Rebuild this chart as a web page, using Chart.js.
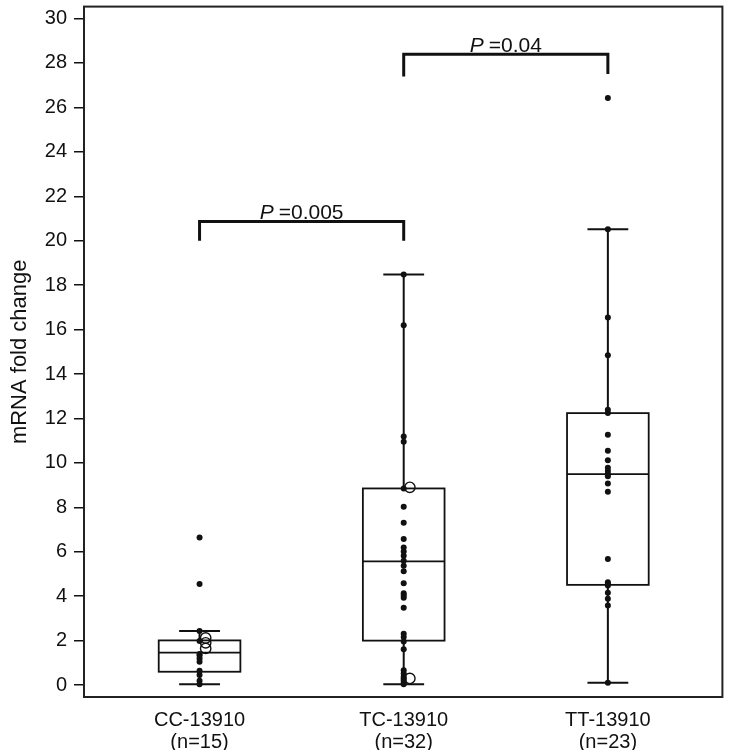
<!DOCTYPE html>
<html><head><meta charset="utf-8">
<script src="https://cdn.jsdelivr.net/npm/chart.js@4.4.0/dist/chart.umd.min.js"></script>
<style>html,body{margin:0;padding:0;background:#fff;}#wrap{width:729px;height:750px;}</style>
</head><body><div id="wrap"><canvas id="c" width="729" height="750"></canvas></div>
<script>
// ---- data ----
const categories = ['CC-13910', 'TC-13910', 'TT-13910'];
const sampleSizes = ['(n=15)', '(n=32)', '(n=23)'];
const yTicks = [0, 2, 4, 6, 8, 10, 12, 14, 16, 18, 20, 22, 24, 26, 28, 30];

const ccValues = [6.64, 4.55, 2.43, 1.98, 1.40, 1.33, 1.20, 1.05, 0.65, 0.45, 0.20, 0.04];
const tcValues = [18.48, 16.19, 11.19, 10.95, 8.85, 8.03, 7.31, 6.57, 6.19, 6.01, 5.82, 5.60, 5.37, 5.12,
                  4.58, 4.13, 4.03, 3.93, 3.48, 2.31, 2.16, 1.96, 1.61, 0.67, 0.52, 0.37, 0.22, 0.12, 0.04, 0.30];
const ttValues = [26.42, 20.52, 16.54, 14.85, 12.39, 12.24, 11.27, 10.55, 10.12, 9.78, 9.63, 9.50, 9.40,
                  9.07, 8.70, 5.67, 4.63, 4.55, 4.48, 4.15, 3.88, 3.58, 0.10];
const ccOpen = [2.12, 1.90, 1.65];
const tcOpen = [8.90, 0.30];

const whiskerLow  = [0.04, 0.04, 0.10];
const boxQ1       = [0.60, 2.00, 4.51];
const boxMedian   = [1.46, 5.57, 9.49];
const boxQ3       = [2.01, 8.85, 12.24];
const whiskerHigh = [2.43, 18.48, 20.52];

const pairFrom = [0, 1];
const pairTo = [1, 2];
const bracketTop = [20.87, 28.39];
const bracketLeftEnd = [20.0, 27.39];
const bracketRightEnd = [20.0, 27.5];
const pValues = ['0.005', '0.04'];

// ---- styling ----
const FONT = '"Liberation Sans", Arial, Helvetica, sans-serif';
const INK = '#111';
const BOX_HALF = 0.2, CAP_HALF = 0.1, OPEN_OFFSET = 0.03;

Chart.defaults.font.family = FONT;
Chart.defaults.color = INK;

const groups = [ccValues, tcValues, ttValues];
const opens = [ccOpen, tcOpen, []];

const datasets = [];
groups.forEach((vals, i) => {
  datasets.push({
    data: vals.map(v => ({x: i, y: v})),
    pointRadius: 3, pointHoverRadius: 3,
    backgroundColor: INK, borderColor: INK, borderWidth: 0,
    showLine: false
  });
});
opens.forEach((vals, i) => {
  if (!vals.length) return;
  datasets.push({
    data: vals.map(v => ({x: i + OPEN_OFFSET, y: v})),
    pointRadius: 5.2, pointHoverRadius: 5.2,
    backgroundColor: 'rgba(255,255,255,0)', borderColor: INK, borderWidth: 1.4,
    showLine: false
  });
});
pairFrom.forEach((a, k) => {
  const b = pairTo[k];
  datasets.push({
    data: [{x: a, y: bracketLeftEnd[k]}, {x: a, y: bracketTop[k]}, {x: b, y: bracketTop[k]}, {x: b, y: bracketRightEnd[k]}],
    showLine: true, pointRadius: 0, borderColor: INK, borderWidth: 3,
    borderJoinStyle: 'miter', borderCapStyle: 'butt', fill: false, tension: 0
  });
});

const boxPlugin = {
  id: 'boxes',
  beforeDatasetsDraw(chart) {
    const {ctx, scales: {x, y}} = chart;
    ctx.save();
    ctx.strokeStyle = INK;
    ctx.lineCap = 'butt';
    for (let i = 0; i < categories.length; i++) {
      const cx = x.getPixelForValue(i);
      const l = x.getPixelForValue(i - BOX_HALF), r = x.getPixelForValue(i + BOX_HALF);
      const cl = x.getPixelForValue(i - CAP_HALF), cr = x.getPixelForValue(i + CAP_HALF);
      const yLo = y.getPixelForValue(whiskerLow[i]), yHi = y.getPixelForValue(whiskerHigh[i]);
      const yq1 = y.getPixelForValue(boxQ1[i]), yq3 = y.getPixelForValue(boxQ3[i]);
      const ym = y.getPixelForValue(boxMedian[i]);
      ctx.lineWidth = 2;
      ctx.beginPath();
      ctx.moveTo(cx, yq1); ctx.lineTo(cx, yLo);
      ctx.moveTo(cx, yq3); ctx.lineTo(cx, yHi);
      ctx.moveTo(cl, yLo); ctx.lineTo(cr, yLo);
      ctx.moveTo(cl, yHi); ctx.lineTo(cr, yHi);
      ctx.stroke();
      ctx.lineWidth = 1.8;
      ctx.strokeRect(l, yq3, r - l, yq1 - yq3);
      ctx.beginPath();
      ctx.moveTo(l, ym); ctx.lineTo(r, ym);
      ctx.stroke();
    }
    ctx.restore();
  },
  afterDatasetsDraw(chart) {
    const {ctx, scales: {x, y}, chartArea: ca} = chart;
    ctx.save();
    // frame
    ctx.strokeStyle = '#222';
    ctx.lineWidth = 2;
    ctx.strokeRect(ca.left, ca.top, ca.right - ca.left, ca.bottom - ca.top);
    // p-value labels
    ctx.fillStyle = INK;
    ctx.textBaseline = 'alphabetic';
    ctx.textAlign = 'left';
    pairFrom.forEach((a, k) => {
      const mid = (x.getPixelForValue(a) + x.getPixelForValue(pairTo[k])) / 2;
      const base = y.getPixelForValue(bracketTop[k]) - 2;
      ctx.font = 'italic 21px ' + FONT;
      const pW = ctx.measureText('P').width;
      ctx.font = '21px ' + FONT;
      const rest = '=' + pValues[k];
      const rW = ctx.measureText(rest).width;
      const gap = 5;
      const start = mid - (pW + gap + rW) / 2;
      ctx.font = 'italic 21px ' + FONT;
      ctx.fillText('P', start, base);
      ctx.font = '21px ' + FONT;
      ctx.fillText(rest, start + pW + gap, base);
    });
    ctx.restore();
  }
};

new Chart(document.getElementById('c'), {
  type: 'scatter',
  data: {datasets},
  options: {
    responsive: false,
    devicePixelRatio: 1,
    animation: false,
    layout: {padding: {top: 3, right: 4, left: 0, bottom: 0}},
    plugins: {legend: {display: false}, tooltip: {enabled: false}},
    scales: {
      x: {
        type: 'linear', min: -0.566, max: 2.561,
        afterBuildTicks: s => { s.ticks = categories.map((c, i) => ({value: i})); },
        afterFit: s => { s.height = 53; s.paddingLeft = 0; s.paddingRight = 0; },
        grid: {display: true, drawOnChartArea: false, drawTicks: false},
        border: {display: false},
        ticks: {
          autoSkip: false, maxRotation: 0, minRotation: 0, padding: 12,
          font: {size: 20, lineHeight: 1.1}, color: INK,
          callback: v => [categories[Math.round(v)], sampleSizes[Math.round(v)]]
        }
      },
      y: {
        type: 'linear', min: -0.537, max: 30.537,
        afterBuildTicks: s => { s.ticks = yTicks.map(v => ({value: v})); },
        afterFit: s => { s.width = 84; s.paddingTop = 0; s.paddingBottom = 0; },
        grid: {display: true, drawOnChartArea: false, drawTicks: true, tickLength: 10, color: INK, lineWidth: 1.5},
        border: {display: false},
        title: {display: true, text: 'mRNA fold change', font: {size: 22, lineHeight: 1.2}, color: INK, padding: {top: 7, bottom: 0}},
        ticks: {padding: 7, font: {size: 20}, color: INK, callback: v => String(v)}
      }
    }
  },
  plugins: [boxPlugin]
});
</script>
</body></html>
